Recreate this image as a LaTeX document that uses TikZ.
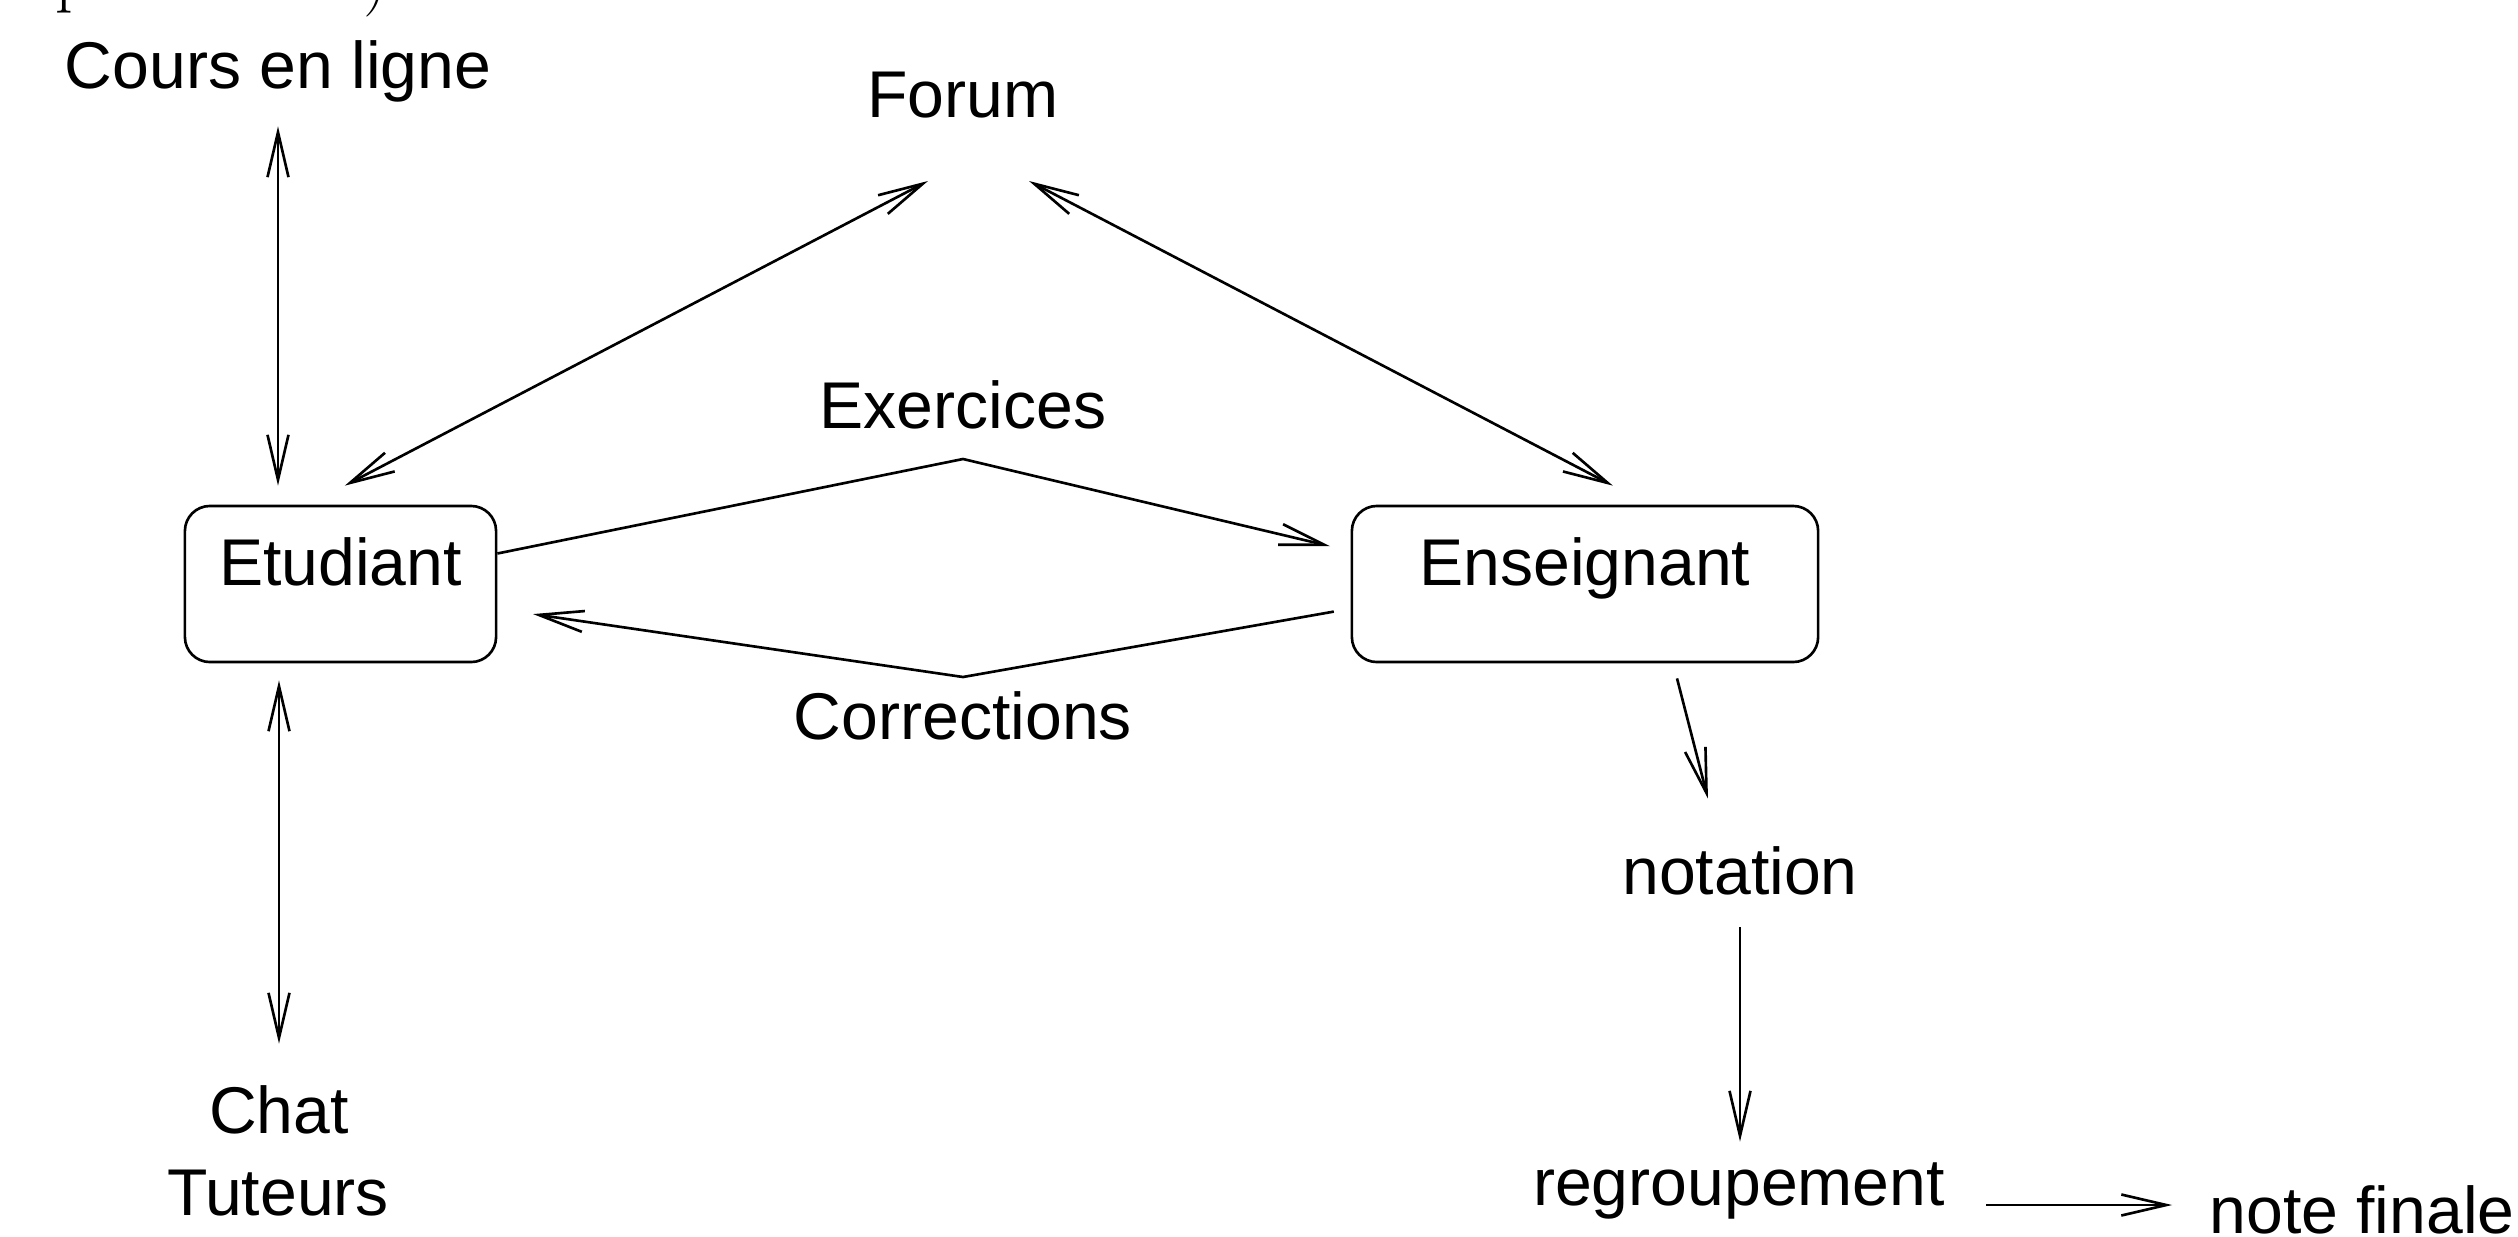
\documentclass[tikz,border=0pt]{standalone}
\usepackage{fontspec}
\usepackage{tikz}
\usetikzlibrary{arrows.meta}
\newfontfamily\sansfig{Liberation Sans}

\begin{document}
\begin{tikzpicture}[x=0.01cm, y=-0.01cm, line width=0.75pt,
    font={\sansfig\fontsize{18.8}{23}\selectfont},
    boite/.style={draw=black, rounded corners=0.25cm, inner sep=0pt, text height=0.79cm, text depth=0.77cm, anchor=base},
    etiquette/.style={inner sep=0pt, text height=0.48cm, text depth=0.14cm, anchor=base},
    fleche/.style={-{Straight Barb[length=0.45cm, width=0.21cm]}},
    fleche2/.style={{Straight Barb[length=0.45cm, width=0.21cm]}-{Straight Barb[length=0.45cm, width=0.21cm]}}]
    \useasboundingbox (0,0) rectangle (2518,1236);
    % bouts de la legende du dessus
    \node[inner sep=0pt, anchor=base west, font={\rmfamily\fontsize{19.9}{24}\selectfont}] at (54,-1) (frag-p) {p};
    \node[inner sep=0pt, anchor=base west, font={\rmfamily\fontsize{19.9}{24}\selectfont}] at (362,-1) (frag-par) {)};
    \node[boite, minimum width=3.11cm] at (340.5,585) (etu) {Etudiant};
    \node[boite, minimum width=4.66cm] at (1585,585) (ens) {Enseignant};
    \node[etiquette] at (278,88) (cours) {Cours en ligne};
    \node[etiquette] at (963,117) (forum) {Forum};
    \node[etiquette] at (963,428) (exo) {Exercices};
    \node[etiquette] at (963,739) (corr) {Corrections};
    \node[etiquette] at (279,1133) (chat) {Chat};
    \node[etiquette] at (278,1215) (tut) {Tuteurs};
    \node[etiquette] at (1740,894) (notation) {notation};
    \node[etiquette] at (1739,1205) (regroup) {regroupement};
    \node[etiquette] at (2362,1233) (finale) {note finale};
    \coordinate (forum-g) at (928,181);
    \coordinate (forum-d) at (1029,181);
    \coordinate (exo-pic) at (963,459);
    \coordinate (corr-creux) at (963,677);
    \draw[fleche2, shorten <=0.23cm, shorten >=0.19cm] (cours.south) -- (cours.south |- etu.north);
    \draw[fleche2, shorten <=0.41cm] (etu.112.3) -- (forum-g);
    \draw[fleche2, shorten >=0.41cm] (forum-d) -- (ens.51.5);
    \draw[fleche, shorten >=0.21cm] (etu.11.6) -- (exo-pic) -- (ens.172.7);
    \draw[fleche, shorten <=0.17cm, shorten >=0.36cm] (ens.186.9) -- (corr-creux) -- (etu.351.2);
    \draw[fleche2, shorten <=0.17cm, shorten >=0.40cm] (chat.north |- etu.south) -- (chat.north);
    \draw[fleche, shorten <=0.155cm, shorten >=0.475cm] (ens.318.4) -- (notation.122.8);
    \draw[fleche, shorten <=0.18cm, shorten >=0.14cm] (notation.south) -- (notation.south |- regroup.north);
    \draw[fleche, shorten <=0.40cm, shorten >=0.36cm] (regroup.base east) -- (regroup.base east -| finale.west);
\end{tikzpicture}
\end{document}
